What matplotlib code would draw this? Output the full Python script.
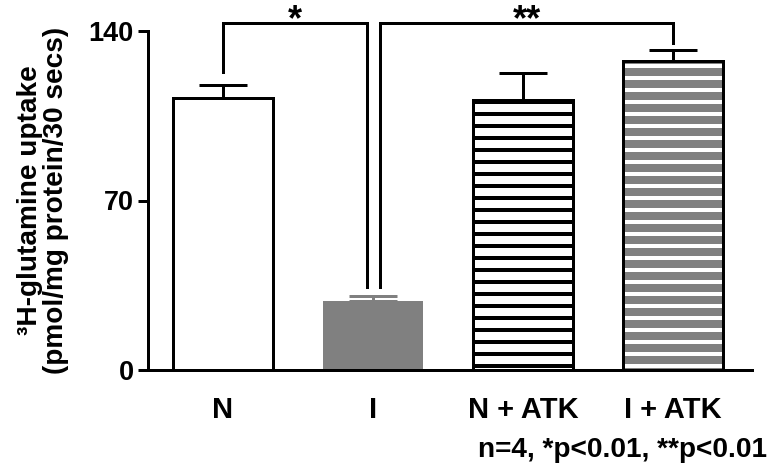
import numpy as np
import matplotlib
matplotlib.use('Agg')
import matplotlib.pyplot as plt

# data
groups = ['N', 'I', 'N + ATK', 'I + ATK']
uptake = [112.4, 28.6, 111.3, 127.8]
sem = [5.4, 1.8, 11.3, 4.4]
# (left x, right x, left foot, right foot, label)
brackets = [(0, 0.96, 123.0, 34.3, '*'),
            (1.05, 3, 34.3, 135.0, '**')]
bracket_top = 143.4
note = 'n=4, *p<0.01, **p<0.01'

GREY = '#808080'

plt.rcParams['font.family'] = ['Liberation Sans', 'DejaVu Sans']
plt.rcParams['font.weight'] = 'bold'
plt.rcParams['hatch.linewidth'] = 4

W, H = 767, 466
fig = plt.figure(figsize=(W / 72, H / 72), dpi=72)
ax = fig.add_axes([148 / W, 1 - 370 / H, (752 - 148) / W, (370 - 31) / H])

x = np.arange(len(groups))
bw = 100 / 150

ax.bar(x[0], uptake[0], bw, color='white', edgecolor='black', lw=3, zorder=2)
ax.bar(x[1], uptake[1], bw, color=GREY, edgecolor=GREY, lw=0, zorder=2)
ax.bar(x[2], uptake[2], bw, color='white', edgecolor='black', hatch='-', lw=3, zorder=2)
ax.bar(x[3], uptake[3], bw, color=GREY, edgecolor='white', hatch='-', lw=0, zorder=2)
ax.bar(x[3], uptake[3], bw, color='none', edgecolor='black', lw=3, zorder=3)

for i in range(len(groups)):
    c = GREY if i == 1 else 'black'
    ax.errorbar(x[i], uptake[i], yerr=[[0], [sem[i]]], fmt='none', ecolor=c,
                elinewidth=3, capsize=24, capthick=3, zorder=1)

for x0, x1, y0, y1, lab in brackets:
    ax.plot([x0, x0, x1, x1], [y0, bracket_top, bracket_top, y1], color='black',
            lw=3, clip_on=False, solid_joinstyle='miter', zorder=4)
    ax.text((x0 + x1) / 2, 140.5, lab, ha='center', va='baseline',
            fontsize=36, fontweight='bold')

ax.set_xlim(-0.5, 3.527)
ax.set_ylim(0, 140)
ax.set_yticks([0, 70, 140])
ax.set_xticks(x)
ax.set_xticklabels(groups, fontsize=29, fontweight='bold')
ax.tick_params(axis='x', length=0, pad=26)
ax.tick_params(axis='y', length=10, width=3, labelsize=27, pad=4)
for s in ['top', 'right']:
    ax.spines[s].set_visible(False)
for s in ['left', 'bottom']:
    ax.spines[s].set_linewidth(3)

ax.set_ylabel('³H-glutamine uptake\n(pmol/mg protein/30 secs)', fontsize=28,
              fontweight='bold', linespacing=1.0, labelpad=20)

fig.text(1.0, 1 - 450 / H, note, ha='right', va='center', fontsize=28,
         fontweight='bold')

fig.savefig('out.png', dpi=72)
